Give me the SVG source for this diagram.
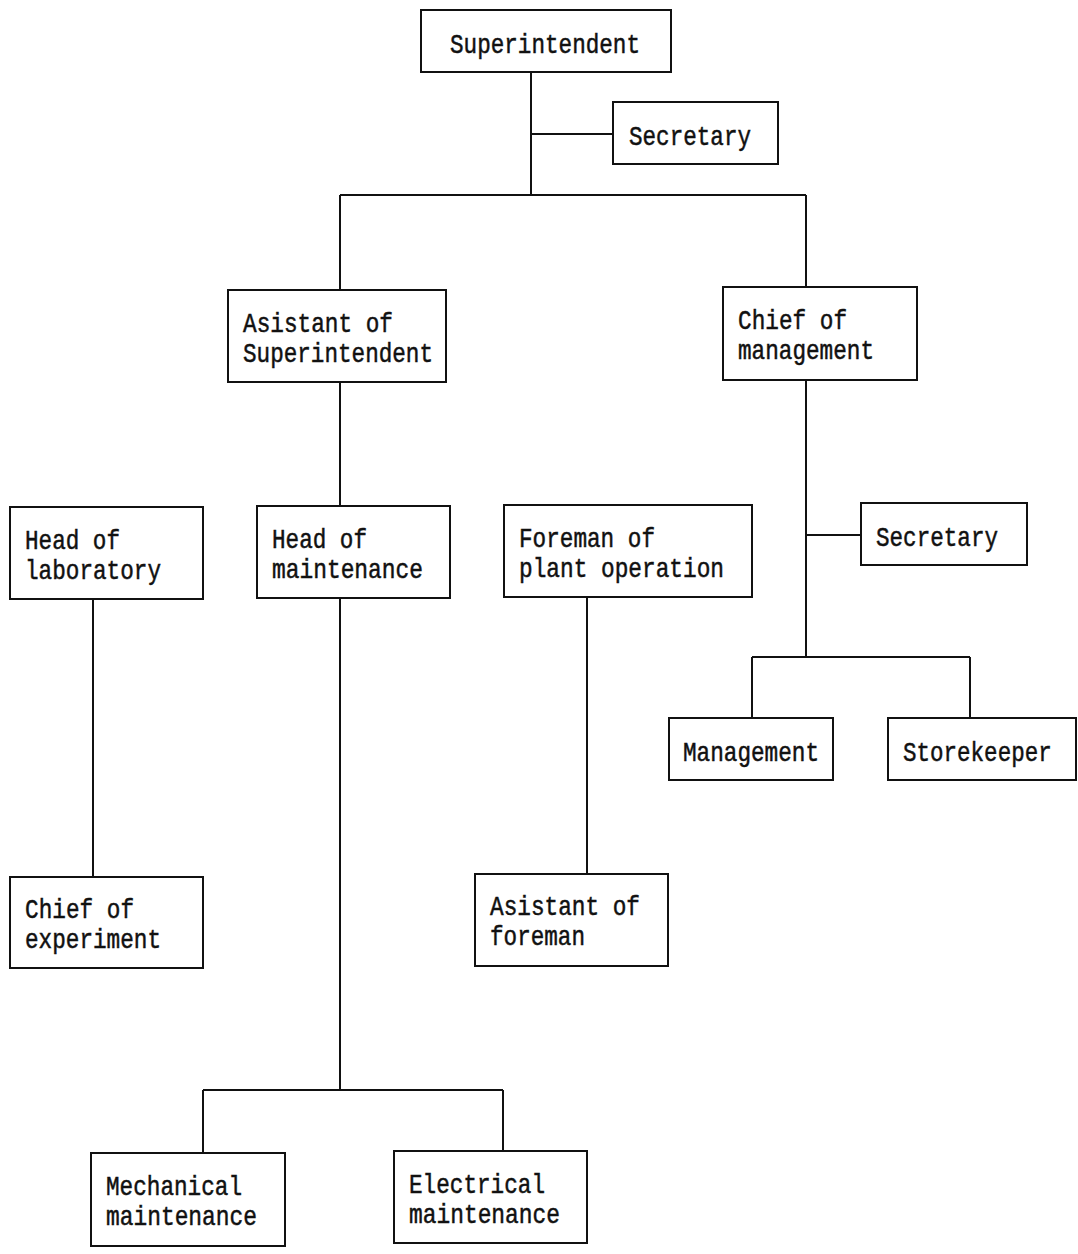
<svg xmlns="http://www.w3.org/2000/svg" width="1078" height="1254" viewBox="0 0 1078 1254">
  <style>
    .box { fill: #ffffff; stroke: #111111; stroke-width: 2; }
    .wire { fill: none; stroke: #111111; stroke-width: 2; }
    .lbl { font-family: "Liberation Mono", "DejaVu Sans Mono", monospace; font-size: 28px; fill: #111111; stroke: #111111; stroke-width: 0.5; }
  </style>
  <rect width="1078" height="1254" fill="#ffffff"/>

  <!-- connectors -->
  <g id="connectors">
    <path class="wire" d="M531 72 V195 M531 134 H613 M340 195 H806 M340 195 V290 M806 195 V287"/>
    <path class="wire" d="M340 382 V506 M340 598 V1090 M203 1090 H503 M203 1090 V1153 M503 1090 V1151"/>
    <path class="wire" d="M806 380 V657 M806 535 H861 M752 657 H970 M752 657 V718 M970 657 V718"/>
    <path class="wire" d="M93 599 V877 M587 597 V874"/>
  </g>

  <g id="superintendent">
    <rect class="box" x="421" y="10" width="250" height="62"/>
    <text class="lbl" x="450" y="53" textLength="190" lengthAdjust="spacingAndGlyphs">Superintendent</text>
  </g>
  <g id="secretary-top">
    <rect class="box" x="613" y="102" width="165" height="62"/>
    <text class="lbl" x="629" y="145" textLength="122" lengthAdjust="spacingAndGlyphs">Secretary</text>
  </g>

  <g id="asistant-superintendent">
    <rect class="box" x="228" y="290" width="218" height="92"/>
    <text class="lbl" x="243" y="332" textLength="150" lengthAdjust="spacingAndGlyphs">Asistant of</text>
    <text class="lbl" x="243" y="362" textLength="190" lengthAdjust="spacingAndGlyphs">Superintendent</text>
  </g>
  <g id="chief-management">
    <rect class="box" x="723" y="287" width="194" height="93"/>
    <text class="lbl" x="738" y="329" textLength="109" lengthAdjust="spacingAndGlyphs">Chief of</text>
    <text class="lbl" x="738" y="359" textLength="136" lengthAdjust="spacingAndGlyphs">management</text>
  </g>

  <g id="head-laboratory">
    <rect class="box" x="10" y="507" width="193" height="92"/>
    <text class="lbl" x="25" y="549" textLength="95" lengthAdjust="spacingAndGlyphs">Head of</text>
    <text class="lbl" x="25" y="579" textLength="136" lengthAdjust="spacingAndGlyphs">laboratory</text>
  </g>
  <g id="head-maintenance">
    <rect class="box" x="257" y="506" width="193" height="92"/>
    <text class="lbl" x="272" y="548" textLength="95" lengthAdjust="spacingAndGlyphs">Head of</text>
    <text class="lbl" x="272" y="578" textLength="151" lengthAdjust="spacingAndGlyphs">maintenance</text>
  </g>
  <g id="foreman-plant">
    <rect class="box" x="504" y="505" width="248" height="92"/>
    <text class="lbl" x="519" y="547" textLength="136" lengthAdjust="spacingAndGlyphs">Foreman of</text>
    <text class="lbl" x="519" y="577" textLength="205" lengthAdjust="spacingAndGlyphs">plant operation</text>
  </g>
  <g id="secretary-management">
    <rect class="box" x="861" y="503" width="166" height="62"/>
    <text class="lbl" x="876" y="546" textLength="122" lengthAdjust="spacingAndGlyphs">Secretary</text>
  </g>

  <g id="management">
    <rect class="box" x="669" y="718" width="164" height="62"/>
    <text class="lbl" x="683" y="761" textLength="136" lengthAdjust="spacingAndGlyphs">Management</text>
  </g>
  <g id="storekeeper">
    <rect class="box" x="888" y="718" width="188" height="62"/>
    <!-- horizontally condensed with a transform so the label keeps its near-edge spot -->
    <text class="lbl" transform="translate(903 761) scale(0.805 1)">Storekeeper</text>
  </g>

  <g id="chief-experiment">
    <rect class="box" x="10" y="877" width="193" height="91"/>
    <text class="lbl" x="25" y="918" textLength="109" lengthAdjust="spacingAndGlyphs">Chief of</text>
    <text class="lbl" x="25" y="948" textLength="136" lengthAdjust="spacingAndGlyphs">experiment</text>
  </g>
  <g id="asistant-foreman">
    <rect class="box" x="475" y="874" width="193" height="92"/>
    <text class="lbl" x="490" y="915" textLength="150" lengthAdjust="spacingAndGlyphs">Asistant of</text>
    <text class="lbl" x="490" y="945" textLength="95" lengthAdjust="spacingAndGlyphs">foreman</text>
  </g>

  <g id="mechanical-maintenance">
    <rect class="box" x="91" y="1153" width="194" height="93"/>
    <text class="lbl" x="106" y="1195" textLength="136" lengthAdjust="spacingAndGlyphs">Mechanical</text>
    <text class="lbl" x="106" y="1225" textLength="151" lengthAdjust="spacingAndGlyphs">maintenance</text>
  </g>
  <g id="electrical-maintenance">
    <rect class="box" x="394" y="1151" width="193" height="92"/>
    <text class="lbl" x="409" y="1193" textLength="136" lengthAdjust="spacingAndGlyphs">Electrical</text>
    <text class="lbl" x="409" y="1223" textLength="151" lengthAdjust="spacingAndGlyphs">maintenance</text>
  </g>
</svg>
